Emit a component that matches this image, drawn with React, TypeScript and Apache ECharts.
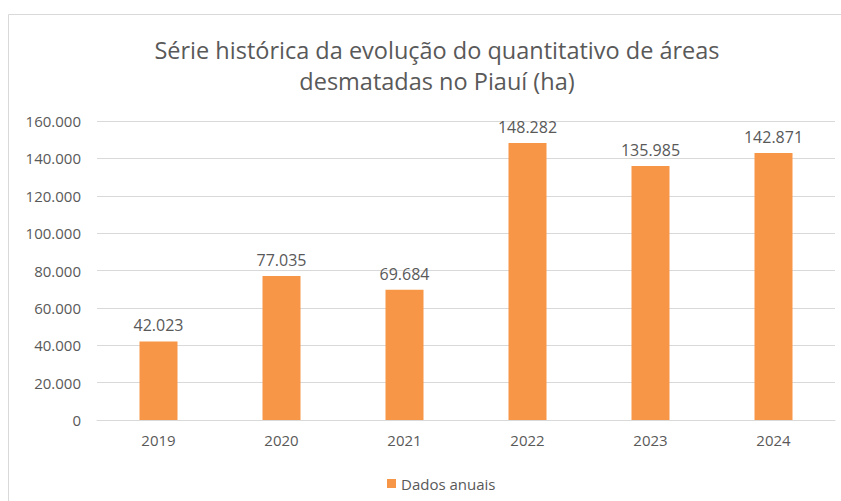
import React, { useEffect, useRef } from "react";
import * as echarts from "echarts";

const categories = ["2019", "2020", "2021", "2022", "2023", "2024"];
const values = [42023, 77035, 69684, 148282, 135985, 142871];
const seriesName = "Dados anuais";
const titleText = "Série histórica da evolução do quantitativo de áreas\ndesmatadas no Piauí (ha)";

const fmt = (v: number) => String(Math.round(v)).replace(/\B(?=(\d{3})+(?!\d))/g, ".");

const FONT = "Open Sans";
const GRAY = "#595959";

export default function App() {
  const ref = useRef<HTMLDivElement>(null);
  useEffect(() => {
    if (!ref.current) return;
    const chart = echarts.init(ref.current, undefined, { renderer: "svg" });
    chart.setOption({
      animation: false,
      backgroundColor: "#ffffff",
      graphic: [
        {
          type: "rect",
          shape: { x: 8.5, y: 14.5, width: 900, height: 600 },
          style: { fill: "none", stroke: "#d9d9d9", lineWidth: 1 },
          silent: true,
        },
      ],
      title: {
        text: titleText,
        left: 432,
        top: 29,
        textAlign: "center",
        textStyle: {
          fontFamily: FONT,
          fontSize: 23.5,
          fontWeight: "normal",
          color: GRAY,
          lineHeight: 31,
        },
      },
      legend: {
        data: [seriesName],
        left: 382,
        top: 471,
        icon: "rect",
        itemWidth: 9,
        itemHeight: 9,
        itemGap: 5,
        textStyle: { fontFamily: FONT, fontSize: 15, color: GRAY },
      },
      grid: { left: 97, right: 6, top: 121, bottom: 81, containLabel: false },
      xAxis: {
        type: "category",
        data: categories,
        axisLine: { lineStyle: { color: "#d9d9d9", width: 1 } },
        axisTick: { show: false },
        axisLabel: { fontFamily: FONT, fontSize: 15, color: GRAY, margin: 12 },
      },
      yAxis: {
        type: "value",
        min: 0,
        max: 160000,
        interval: 20000,
        axisLine: { show: false },
        axisTick: { show: false },
        splitLine: { lineStyle: { color: "#d9d9d9", width: 1 } },
        axisLabel: {
          fontFamily: FONT,
          fontSize: 15,
          color: GRAY,
          margin: 16,
          formatter: (v: number) => fmt(v),
        },
      },
      series: [
        {
          name: seriesName,
          type: "bar",
          data: values,
          barWidth: 38,
          itemStyle: { color: "#f79646" },
          label: {
            show: true,
            position: "top",
            distance: 8,
            fontFamily: FONT,
            fontSize: 16,
            color: GRAY,
            formatter: (p: any) => fmt(p.value),
          },
        },
      ],
    });
    return () => chart.dispose();
  }, []);
  return (
    <div
      ref={ref}
      style={{ position: "absolute", left: 0, top: 0, width: 841, height: 501 }}
    />
  );
}
